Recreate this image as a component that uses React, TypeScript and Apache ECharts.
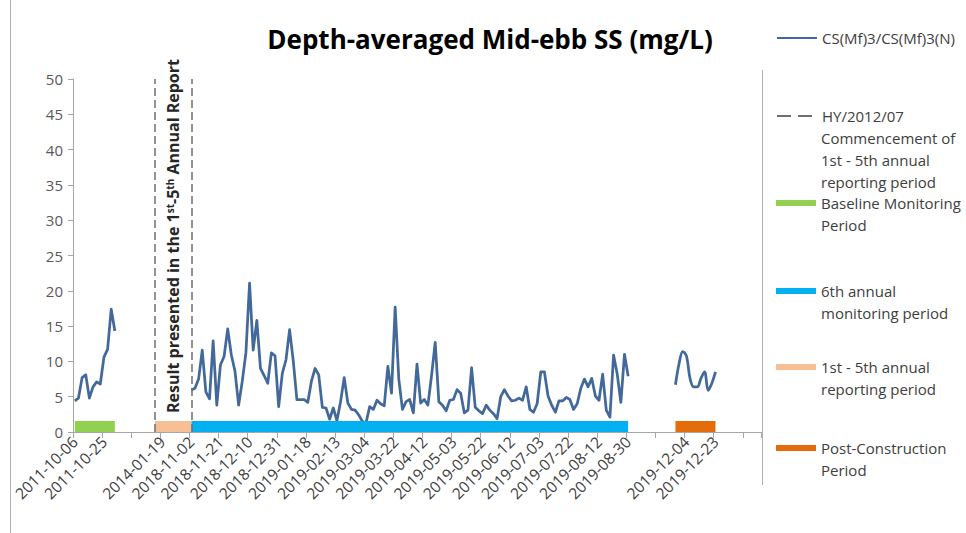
import React, { useEffect, useRef } from 'react';
import * as echarts from 'echarts';

const FONT = '"Open Sans", "Noto Sans", sans-serif';
const TITLE = 'Depth-averaged Mid-ebb SS (mg/L)';

// category axis: one category per sample, a tick + label every 8 categories
const CATEGORY_COUNT = 189;
const LABEL_EVERY = 8;
const tickLabels = [
  '2011-10-06', '2011-10-25', '', '2014-01-19', '2018-11-02', '2018-11-21',
  '2018-12-10', '2018-12-31', '2019-01-18', '2019-02-13', '2019-03-04', '2019-03-22',
  '2019-04-12', '2019-05-03', '2019-05-22', '2019-06-12', '2019-07-03', '2019-07-22',
  '2019-08-12', '2019-08-30', '', '2019-12-04', '2019-12-23', '',
];

// CS(Mf)3/CS(Mf)3(N) depth-averaged mid-ebb SS (mg/L)
const baselineStart = 0;
const baselineValues = [4.4, 4.8, 7.7, 8.1, 4.8, 6.4, 7.1, 6.8, 10.6, 11.7, 17.4, 14.3];

const sixthStart = 32;
const sixthValues = [
  5.95, 6.2, 7.5, 11.6, 5.7, 4.7, 12.9, 3.8, 9.5, 10.7,
  14.6, 10.9, 8.6, 3.8, 7.2, 11.2, 21.1, 11.6, 15.8, 9.0,
  8.0, 6.9, 11.2, 10.8, 3.6, 8.3, 10.2, 14.5, 10.1, 4.6,
  4.6, 4.6, 4.2, 7.2, 9.0, 8.1, 3.5, 3.4, 1.8, 3.4,
  1.6, 4.3, 7.7, 4.1, 3.2, 3.1, 2.4, 1.5, 1.3, 3.6,
  3.2, 4.5, 4.0, 3.7, 9.3, 5.5, 17.7, 7.5, 3.2, 4.3,
  4.6, 2.7, 9.6, 4.1, 4.6, 3.8, 8.0, 12.7, 4.3, 3.8,
  3.0, 4.5, 4.6, 6.0, 5.5, 2.7, 3.1, 9.1, 3.5, 3.0,
  2.6, 3.8, 3.1, 2.6, 1.9, 5.0, 6.0, 5.1, 4.4, 4.5,
  4.8, 4.5, 6.4, 3.2, 2.8, 4.0, 8.5, 8.5, 5.1, 3.8,
  2.8, 4.4, 4.4, 4.9, 4.6, 3.2, 4.0, 6.2, 7.5, 6.4,
  7.6, 5.1, 4.5, 8.2, 3.1, 2.1, 10.9, 8.2, 4.2, 11.0,
  7.9,
];

const postStart = 165;
const postValues = [6.7, 9.7, 11.4, 10.8, 7.6, 6.4, 6.4, 7.6, 8.5, 5.9, 6.9, 8.5];

// period spans (first and last category index)
const baselinePeriod = [0, 11];
const reportingPeriod = [22, 32];
const sixthPeriod = [32, 152];
const postPeriod = [165, 176];
// HY/2012/07 commencement markers (category index)
const commencementMarks = [22, 32];

const PERIOD_BAR_LEVEL = 1.55;

const NAME_MAIN = 'CS(Mf)3/CS(Mf)3(N)';
const NAME_HY = 'HY/2012/07 Commencement of 1st - 5th annual reporting period';
const NAME_BASE = 'Baseline Monitoring Period';
const NAME_SIXTH = '6th annual monitoring period';
const NAME_REPORT = '1st - 5th annual reporting period';
const NAME_POST = 'Post-Construction Period';

const legendLines: Record<string, string[]> = {
  [NAME_MAIN]: ['CS(Mf)3/CS(Mf)3(N)'],
  [NAME_HY]: ['HY/2012/07', 'Commencement of', '1st - 5th annual', 'reporting period'],
  [NAME_BASE]: ['Baseline Monitoring', 'Period'],
  [NAME_SIXTH]: ['6th annual', 'monitoring period'],
  [NAME_REPORT]: ['1st - 5th annual', 'reporting period'],
  [NAME_POST]: ['Post-Construction', 'Period'],
};

const COLORS = {
  line: '#43699b',
  dash: '#6f6f6f',
  base: '#92d050',
  sixth: '#00b0f0',
  report: '#f7c094',
  post: '#e46c0a',
  axis: '#a6a6a6',
  text: '#404040',
};

const LEGEND_LEFT = 776;
const LEGEND_ICON_W = 40;
const LEGEND_LH = 22;
const LEGEND_FONT = 15;

function buildCategories(): string[] {
  const cats: string[] = [];
  for (let i = 0; i < CATEGORY_COUNT; i++) {
    cats.push(i % LABEL_EVERY === 0 ? tickLabels[i / LABEL_EVERY] ?? '' : '');
  }
  return cats;
}

function place(start: number, values: number[]) {
  const arr: (number | null)[] = new Array(CATEGORY_COUNT).fill(null);
  values.forEach((v, k) => {
    arr[start + k] = v;
  });
  return arr;
}

function span(range: number[]) {
  const arr: (number | null)[] = new Array(CATEGORY_COUNT).fill(null);
  for (let i = range[0]; i <= range[1]; i++) arr[i] = PERIOD_BAR_LEVEL;
  return arr;
}

type LegendSpec = { name: string; y: number; h: number; icon?: string; color?: string; hideSymbol?: boolean };

const legendSpecs: LegendSpec[] = [
  { name: NAME_MAIN, y: 38, h: 14, hideSymbol: true },
  { name: NAME_HY, y: 116, h: 14, hideSymbol: true },
  { name: NAME_BASE, y: 203, h: 6, icon: 'rect', color: COLORS.base },
  { name: NAME_SIXTH, y: 291, h: 6, icon: 'rect', color: COLORS.sixth },
  { name: NAME_REPORT, y: 367, h: 6, icon: 'rect', color: COLORS.report },
  { name: NAME_POST, y: 448, h: 6, icon: 'rect', color: COLORS.post },
];

function legendFor(s: LegendSpec) {
  const first = legendLines[s.name][0];
  return {
    data: [s.name],
    left: LEGEND_LEFT,
    top: s.y - LEGEND_LH / 2,
    orient: 'vertical',
    padding: 0,
    itemWidth: LEGEND_ICON_W,
    itemHeight: s.h,
    icon: s.icon,
    selectedMode: false,
    itemStyle: s.hideSymbol ? { opacity: 0 } : { color: s.color },
    formatter: () => first,
    textStyle: {
      fontFamily: FONT,
      fontSize: LEGEND_FONT,
      color: COLORS.text,
      lineHeight: LEGEND_LH,
    },
  };
}

function legendContinuation() {
  const out: any[] = [];
  legendSpecs.forEach((s) => {
    legendLines[s.name].slice(1).forEach((line, k) => {
      out.push({
        type: 'text',
        x: LEGEND_LEFT + LEGEND_ICON_W + 5,
        y: s.y + (k + 1) * LEGEND_LH,
        silent: true,
        style: {
          text: line,
          fontFamily: FONT,
          fontSize: LEGEND_FONT,
          fill: COLORS.text,
          align: 'left',
          verticalAlign: 'middle',
        },
      });
    });
  });
  return out;
}

function barSeries(name: string, range: number[], color: string) {
  return {
    name,
    type: 'line',
    data: span(range),
    color,
    symbol: 'none',
    connectNulls: false,
    itemStyle: { color },
    lineStyle: { width: 0, color },
    areaStyle: { color, opacity: 1, origin: 0 },
    silent: true,
    z: 3,
  };
}

export default function App() {
  const ref = useRef<HTMLDivElement>(null);

  useEffect(() => {
    if (!ref.current) return;
    const chart = echarts.init(ref.current, null, { renderer: 'svg' });
    const categories = buildCategories();

    const mainData = place(baselineStart, baselineValues);
    place(sixthStart, sixthValues).forEach((v, i) => {
      if (v !== null) mainData[i] = v;
    });

    const option: any = {
      animation: false,
      backgroundColor: '#ffffff',
      title: {
        text: TITLE,
        left: 490,
        top: 26,
        padding: 0,
        textAlign: 'center',
        textStyle: { fontFamily: FONT, fontSize: 26, fontWeight: 'bold', color: '#000000' },
      },
      grid: { left: 73, right: 205, top: 79, bottom: 101, containLabel: false },
      xAxis: {
        type: 'category',
        data: categories,
        boundaryGap: true,
        axisLine: { show: true, lineStyle: { color: COLORS.axis, width: 1 } },
        axisTick: { show: true, interval: LABEL_EVERY - 1, length: 6, lineStyle: { color: COLORS.axis } },
        axisLabel: {
          interval: LABEL_EVERY - 1,
          rotate: 45,
          margin: 7,
          fontFamily: FONT,
          fontSize: 15.5,
          color: COLORS.text,
        },
        splitLine: { show: false },
      },
      yAxis: {
        type: 'value',
        min: 0,
        max: 50,
        interval: 5,
        axisLine: { show: true, lineStyle: { color: COLORS.axis, width: 1 } },
        axisTick: { show: true, length: 5, lineStyle: { color: COLORS.axis } },
        axisLabel: { margin: 10, fontFamily: FONT, fontSize: 15, color: '#595959' },
        splitLine: { show: false },
      },
      legend: legendSpecs.map(legendFor),
      series: [
        {
          name: NAME_MAIN,
          type: 'line',
          data: mainData,
          color: COLORS.line,
          symbol: 'none',
          connectNulls: false,
          lineStyle: { width: 2.75, color: COLORS.line, join: 'round' },
          z: 2,
        },
        {
          name: NAME_MAIN,
          type: 'line',
          data: place(postStart, postValues),
          color: COLORS.line,
          symbol: 'none',
          smooth: 0.35,
          connectNulls: false,
          lineStyle: { width: 2.75, color: COLORS.line },
          z: 2,
        },
        {
          name: NAME_HY,
          type: 'line',
          data: new Array(CATEGORY_COUNT).fill(null),
          color: COLORS.dash,
          symbol: 'none',
          lineStyle: { width: 1.5, color: COLORS.dash, type: [14, 7] },
          markLine: {
            silent: true,
            symbol: ['none', 'none'],
            label: { show: false },
            lineStyle: { color: COLORS.dash, width: 1.5, type: [8, 4] },
            emphasis: { disabled: true },
            data: commencementMarks.map((i) => ({ xAxis: i })),
          },
        },
        barSeries(NAME_BASE, baselinePeriod, COLORS.base),
        barSeries(NAME_SIXTH, sixthPeriod, COLORS.sixth),
        barSeries(NAME_REPORT, reportingPeriod, COLORS.report),
        barSeries(NAME_POST, postPeriod, COLORS.post),
      ],
      graphic: [
        {
          type: 'text',
          x: 173,
          y: 236,
          rotation: Math.PI / 2,
          silent: true,
          style: {
            text: 'Result presented in the 1{sup|st}-5{sup|th} Annual Report',
            fontFamily: FONT,
            fontSize: 16,
            fontWeight: 'bold',
            fill: '#262626',
            align: 'center',
            verticalAlign: 'middle',
            rich: {
              sup: { fontFamily: FONT, fontSize: 10, fontWeight: 'bold', fill: '#262626', verticalAlign: 'top' },
            },
          },
        },
        ...legendContinuation(),
        {
          type: 'line',
          silent: true,
          shape: { x1: 10.5, y1: 0, x2: 10.5, y2: 533 },
          style: { stroke: '#b0b0b0', lineWidth: 1 },
        },
        {
          type: 'line',
          silent: true,
          shape: { x1: 762.5, y1: 70, x2: 762.5, y2: 485 },
          style: { stroke: '#b0b0b0', lineWidth: 1 },
        },
      ],
    };

    chart.setOption(option);
    return () => chart.dispose();
  }, []);

  return (
    <div
      ref={ref}
      style={{ position: 'fixed', left: 0, top: 0, width: 966, height: 533, background: '#ffffff' }}
    />
  );
}
